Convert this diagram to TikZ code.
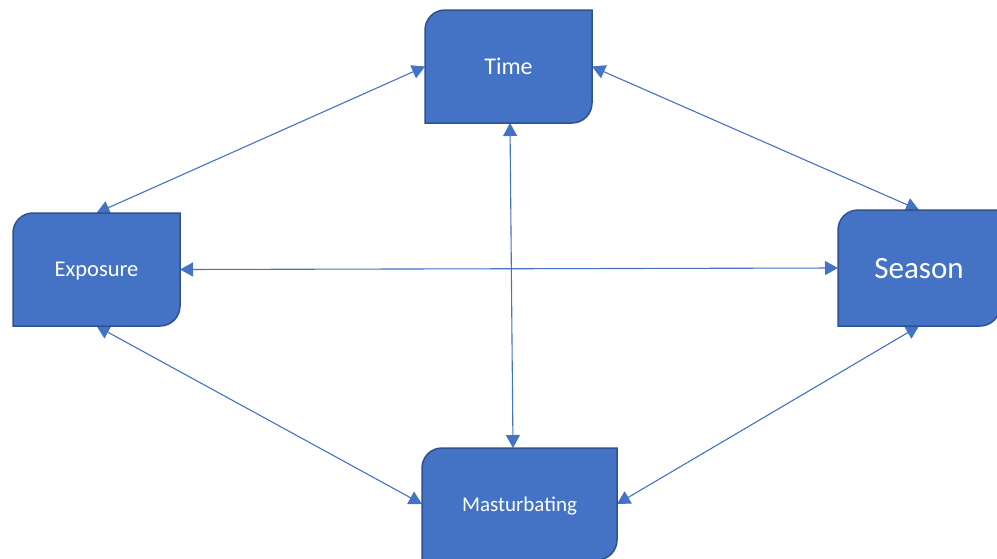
\documentclass[tikz,border=0pt]{standalone}
\usepackage{fontspec}
\setmainfont{Carlito}
\usetikzlibrary{arrows.meta,calc}
\definecolor{boxfill}{HTML}{4472C4}
\definecolor{boxline}{HTML}{2F528F}
\definecolor{arrcol}{HTML}{4472C4}
\pgfdeclarelayer{arr}
\pgfdeclarelayer{shp}
\pgfsetlayers{arr,shp,main}
\tikzset{
  lbl/.style={draw=none, fill=none, text=white, inner sep=0pt, outer sep=0pt, anchor=center, text depth=0pt},
  boxst/.style={fill=boxfill, draw=boxline, line width=1.5pt},
  conn/.style={draw=arrcol, line width=1.1pt, {Triangle[length=13pt,width=14pt]}-{Triangle[length=13pt,width=14pt]}}
}
\newcommand\diagshape[1]{%
  \begin{pgfonlayer}{shp}
  \draw[boxst] (#1.west) [rounded corners=20pt] -- (#1.north west) [sharp corners] -- (#1.north east) [rounded corners=20pt] -- (#1.south east) [sharp corners] -- (#1.south west) -- cycle;
  \end{pgfonlayer}}
\begin{document}
\begin{tikzpicture}[x=1pt,y=-1pt]
\useasboundingbox (0,0) rectangle (997,558);
\node[lbl, minimum width=167pt, minimum height=113pt, font=\fontsize{24}{28}\selectfont] (time) at (508.5,66.5) {Time};
\node[lbl, minimum width=167pt, minimum height=113pt, font=\fontsize{22.5}{27}\selectfont] (expo) at (96.5,269.5) {Exposure};
\node[lbl, minimum width=162pt, minimum height=116pt, font=\fontsize{31}{36}\selectfont] (season) at (919,268) {Season};
\node[lbl, minimum width=195pt, minimum height=112pt, font=\fontsize{21}{25}\selectfont] (mast) at (519.5,504) {Masturbating};
\diagshape{time}
\diagshape{expo}
\diagshape{season}
\diagshape{mast}
\begin{pgfonlayer}{arr}
\draw[conn] (expo.north) -- (time.west);
\draw[conn] (time.east) -- (season.north);
\draw[conn] ([xshift=1.5pt]time.south) -- ([xshift=-6.5pt]mast.north);
\draw[conn] (expo.east) -- (season.west);
\draw[conn] (expo.south) -- (mast.west);
\draw[conn] (season.south) -- (mast.east);
\end{pgfonlayer}
\end{tikzpicture}
\end{document}
